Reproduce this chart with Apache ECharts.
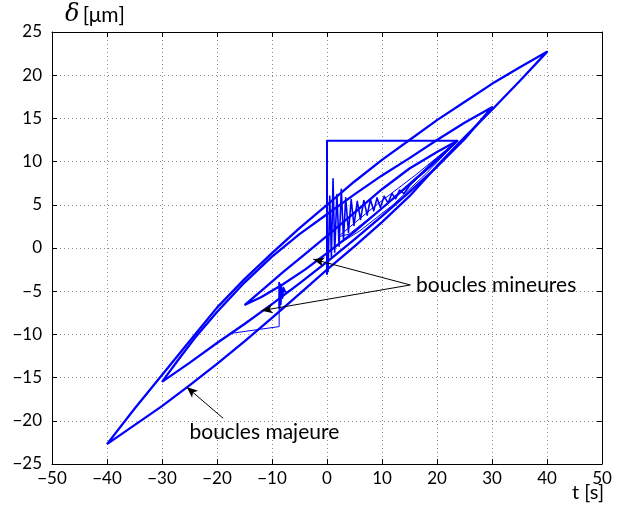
<!DOCTYPE html>
<html>
<head>
<meta charset="utf-8">
<script src="https://cdn.jsdelivr.net/npm/echarts@6/dist/echarts.min.js"></script>
<style>
  html, body { margin: 0; padding: 0; background: #fff; }
  #main { width: 619px; height: 510px; }
</style>
</head>
<body>
<div id="main"></div>
<script>
// axis ranges / tick spacing
var xRange = [-50, 50, 10];
var yRange = [-25, 25, 5];

// major loop, amplitude 40 (upper branch then lower branch)
var loop40 = [
  [-40, -22.7], [-35, -18.6], [-30, -14.7], [-25, -10.8], [-20, -6.9], [-15, -3.6],
  [-10, -0.6], [-5, 2.3], [0, 5.0], [5, 7.7], [10, 10.2], [15, 12.5], [20, 14.8],
  [25, 16.9], [30, 19.0], [35, 20.9], [40, 22.7],
  [35, 19.3], [30, 16.0], [25, 12.8], [20, 9.5], [15, 6.0], [10, 3.0], [5, 0.2],
  [0, -2.5], [-5, -5.3], [-10, -8.1], [-15, -10.8], [-20, -13.4], [-25, -15.9],
  [-30, -18.3], [-35, -20.5], [-40, -22.7]
];

// major loop, amplitude 30
var loop30 = [
  [-30, -15.5], [-27, -12.9], [-24, -10.4], [-20, -7.4], [-15, -4.0], [-10, -1.0],
  [-5, 1.6], [0, 3.9], [5, 6.2], [10, 8.4], [15, 10.4], [20, 12.5], [25, 14.5], [30, 16.3],
  [25, 12.6], [20, 9.4], [15, 6.5], [10, 3.7], [5, 1.0], [0, -1.6], [-5, -4.1],
  [-10, -6.5], [-15, -8.8], [-20, -11.0], [-25, -13.3], [-30, -15.5]
];

// inner loop between -15 and 23.7
var loopInner = [
  [-15, -6.6], [-12, -5.0], [-8, -2.8], [-4, -0.7], [0, 1.4], [5, 4.1], [10, 6.8],
  [15, 9.2], [20, 11.1], [23.7, 12.4],
  [20, 10.2], [15, 7.4], [10, 4.6], [5, 1.9], [0, -0.6], [-4, -2.5], [-8, -4.2],
  [-12, -5.7], [-15, -6.6]
];

// small loops converging at the upper corner
var minorA = [
  [23.7, 12.4], [18, 8.6], [12, 5.0], [6, 2.0], [2, 0.4],
  [8, 3.5], [14, 6.7], [20, 10.0], [23.7, 12.4]
];
var minorB = [
  [23.7, 12.4], [17, 8.4], [10, 4.6], [4, 1.6], [2, 1.3],
  [9, 5.0], [16, 8.4], [23.7, 12.4]
];

// damped ringing after the step near t = 0
var ringing = [
  [0.2, -2.8], [0.5, 6.0], [0.8, -1.0], [1.1, 8.0], [1.4, -0.5], [1.8, 6.2], [2.2, 0.2],
  [2.6, 6.8], [3.0, 1.0], [3.4, 5.8], [3.9, 1.8], [4.4, 5.6], [4.9, 2.6], [5.5, 5.4],
  [6.1, 3.3], [6.7, 5.5], [7.3, 3.8], [7.9, 5.6], [8.5, 4.3], [9.1, 5.8], [9.7, 4.7],
  [10.4, 6.0], [11.1, 5.2], [11.8, 6.3], [12.5, 5.7], [13.2, 6.7], [14.0, 6.3],
  [15.0, 7.2], [19.0, 9.8], [23.7, 12.4]
];
var stepJump = [[0, -3.1], [0, 12.4], [23.7, 12.4]];

// glitch near t = -9
var spikeThin = [[-17.7, -9.9], [-8.7, -9.1], [-8.7, -7.0]];
var spikeRing = [
  [-8.7, -7.0], [-8.7, -4.0], [-8.6, -7.0], [-8.5, -4.2], [-8.4, -6.5], [-8.3, -4.4],
  [-8.1, -5.8], [-7.9, -4.6], [-7.5, -5.2], [-6.7, -4.9]
];

// annotations
var arrowMinorFrom = [15.15, -4.28];
var arrowMinorTo = [[-2.5, -1.3], [-11.9, -7.25]];
var arrowMajor = [[-18.9, -19.7], [-25.5, -16.1]];
var labelMinor = [16.2, -4.3];
var labelMajor = [-25.0, -21.3];

var blue = '#0000ff';
var minus = function (v) { return String(v).replace('-', '\u2212'); };

function trace(data, width) {
  return {
    type: 'line',
    data: data,
    showSymbol: false,
    silent: true,
    lineStyle: { color: blue, width: width, join: 'round' },
    z: 3
  };
}

var chartDom = document.getElementById('main');
var myChart = echarts.init(chartDom);
var option;

var axisLine = { show: true, onZero: false, lineStyle: { color: '#000', width: 1 } };
var tick = { show: true, inside: true, length: 5, lineStyle: { color: '#000' } };
var grid = { show: true, lineStyle: { color: '#8c8c8c', type: [1, 3], width: 1 } };
var tickFont = { color: '#000', fontSize: 17, fontFamily: 'Lato' };

option = {
  animation: false,
  backgroundColor: '#fff',
  grid: { left: 52, right: 17, top: 32, bottom: 46, outerBoundsMode: 'none', containLabel: false },
  graphic: [
    {
      type: 'text', right: 15, top: 483,
      style: { text: 't [s]', fill: '#000', fontSize: 20, fontFamily: 'Lato' }
    }
  ],
  xAxis: [
    {
      type: 'value', min: xRange[0], max: xRange[1], interval: xRange[2],
      axisLine: axisLine, axisTick: tick, splitLine: grid,
      axisLabel: Object.assign({ margin: 6, formatter: minus }, tickFont)
    },
    {
      type: 'value', position: 'top', min: xRange[0], max: xRange[1], interval: xRange[2],
      axisLine: axisLine, axisTick: tick, splitLine: { show: false }, axisLabel: { show: false }
    }
  ],
  yAxis: [
    {
      type: 'value', min: yRange[0], max: yRange[1], interval: yRange[2],
      axisLine: axisLine, axisTick: tick, splitLine: grid,
      axisLabel: Object.assign({ margin: 10, formatter: minus }, tickFont),
      name: '{d|δ} {u|[μm]}', nameLocation: 'end', nameGap: 5,
      nameTextStyle: {
        align: 'left', padding: [0, 0, 0, 13],
        rich: {
          d: { fontFamily: 'DejaVu Serif', fontStyle: 'italic', fontSize: 24, color: '#000' },
          u: { fontFamily: 'Lato', fontSize: 21, color: '#000' }
        }
      }
    },
    {
      type: 'value', position: 'right', min: yRange[0], max: yRange[1], interval: yRange[2],
      axisLine: axisLine, axisTick: tick, splitLine: { show: false }, axisLabel: { show: false }
    }
  ],
  series: [
    trace(loop40, 2.3),
    trace(loop30, 2.3),
    trace(loopInner, 2.3),
    trace(minorA, 1),
    trace(minorB, 1),
    trace(ringing, 1.6),
    trace(stepJump, 2),
    trace(spikeThin, 1),
    Object.assign(trace(spikeRing, 1.8), {
      markLine: {
        silent: true,
        symbol: ['none', 'arrow'],
        symbolSize: [7, 11],
        label: { show: false },
        lineStyle: { color: '#000', width: 1, type: 'solid' },
        data: [
          [{ coord: arrowMinorFrom }, { coord: arrowMinorTo[0] }],
          [{ coord: arrowMinorFrom }, { coord: arrowMinorTo[1] }],
          [{ coord: arrowMajor[0] }, { coord: arrowMajor[1] }]
        ]
      },
      markPoint: {
        silent: true,
        symbol: 'circle',
        symbolSize: 0,
        label: { show: true, position: 'right', distance: 0, color: '#000', fontSize: 21, fontFamily: 'Lato' },
        data: [
          { coord: labelMinor, label: { formatter: 'boucles mineures' } },
          { coord: labelMajor, label: { formatter: 'boucles majeure' } }
        ]
      }
    })
  ]
};

option && myChart.setOption(option);
</script>
</body>
</html>
